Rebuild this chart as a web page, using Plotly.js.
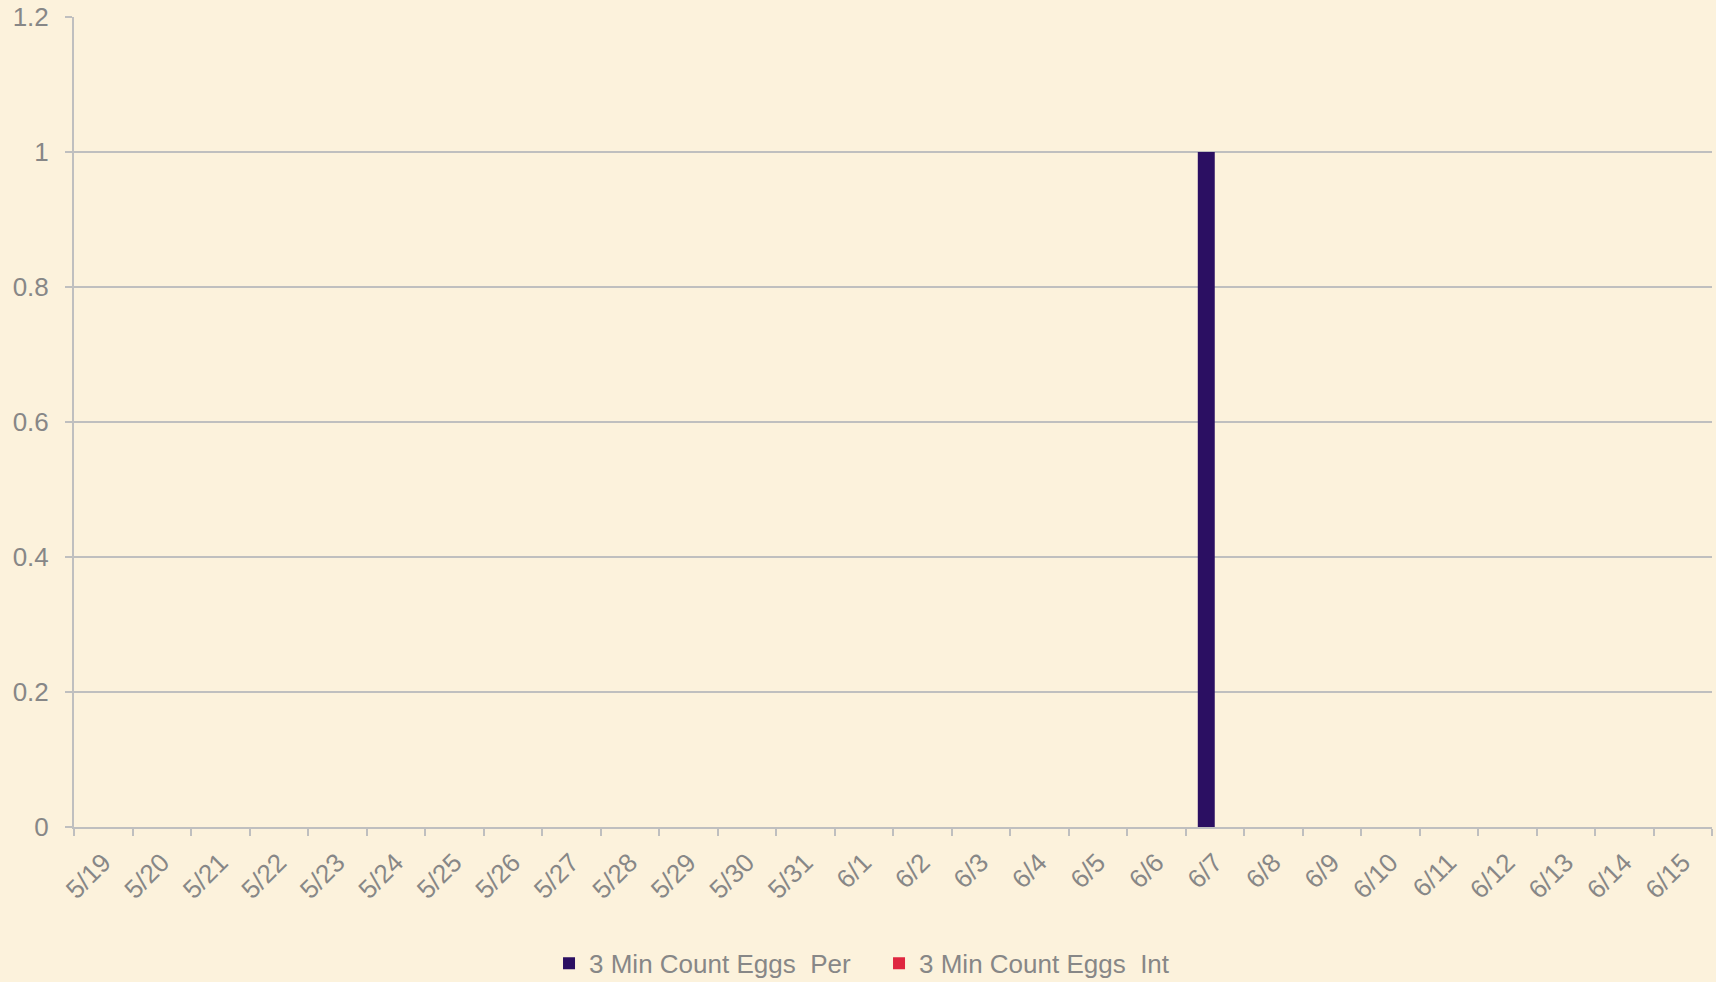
<!DOCTYPE html>
<html>
<head>
<meta charset="utf-8">
<script src="https://cdn.plot.ly/plotly-3.0.1.min.js"></script>
<style>
  html, body { margin:0; padding:0; background:#fcf2dc; }
  #myDiv { width:1716px; height:982px; }
</style>
</head>
<body>
<div id="myDiv"></div>
<script>
// dates on the category axis
let dates=['5/19','5/20','5/21','5/22','5/23','5/24','5/25','5/26','5/27','5/28',
           '5/29','5/30','5/31','6/1','6/2','6/3','6/4','6/5','6/6','6/7',
           '6/8','6/9','6/10','6/11','6/12','6/13','6/14','6/15'];

// 3 min egg counts
let eggs_per=[0,0,0,0,0,0,0,0,0,0,0,0,0,0,0,0,0,0,0,1,0,0,0,0,0,0,0,0];
let eggs_int=[0,0,0,0,0,0,0,0,0,0,0,0,0,0,0,0,0,0,0,0,0,0,0,0,0,0,0,0];

let series_names=['3 Min Count Eggs  Per','3 Min Count Eggs  Int'];

let bg='#fcf2dc';
let grid_color='#bfbfbf';
let text_color='#878787';

let tracePer = { x: dates, y: eggs_per, name: series_names[0],
                 type: 'bar', marker: { color: '#2b0f62' } };
let traceInt = { x: dates, y: eggs_int, name: series_names[1],
                 type: 'bar', marker: { color: '#df2640' } };

let data = [tracePer, traceInt];

let layout = {
  paper_bgcolor: bg,
  plot_bgcolor: bg,
  width: 1716,
  height: 982,
  margin: { l:74, r:4, t:17, b:155 },
  barmode: 'group',
  bargap: 0.42,
  bargroupgap: 0,
  font: { family: 'Liberation Sans, Arial, sans-serif', size: 24, color: text_color },
  showlegend: true,
  legend: {
    orientation: 'h',
    x: 0.29, xanchor: 'left',
    yref: 'container',
    y: 0.019, yanchor: 'middle',
    entrywidth: 285,
    entrywidthmode: 'pixels',
    font: { size: 26, color: text_color },
    bgcolor: 'rgba(0,0,0,0)'
  },
  xaxis: {
    type: 'category',
    automargin: false,
    tickangle: -45,
    tickson: 'boundaries',
    ticks: 'outside',
    ticklen: 7,
    tickwidth: 2,
    tickcolor: grid_color,
    showline: true,
    linecolor: grid_color,
    linewidth: 2,
    showgrid: false,
    zeroline: false,
    ticklabelstandoff: 8,
    tickfont: { size: 26, color: text_color }
  },
  yaxis: {
    range: [0, 1.2],
    automargin: false,
    tickmode: 'linear',
    tick0: 0,
    dtick: 0.2,
    ticks: 'outside',
    ticklen: 7,
    tickwidth: 2,
    tickcolor: grid_color,
    showline: true,
    linecolor: grid_color,
    linewidth: 2,
    showgrid: true,
    gridcolor: grid_color,
    gridwidth: 2,
    zeroline: false,
    ticklabelstandoff: 11,
    tickfont: { size: 26, color: text_color }
  }
};

let config = { displayModeBar: false, staticPlot: true };

Plotly.newPlot('myDiv', data, layout, config);
</script>
</body>
</html>
